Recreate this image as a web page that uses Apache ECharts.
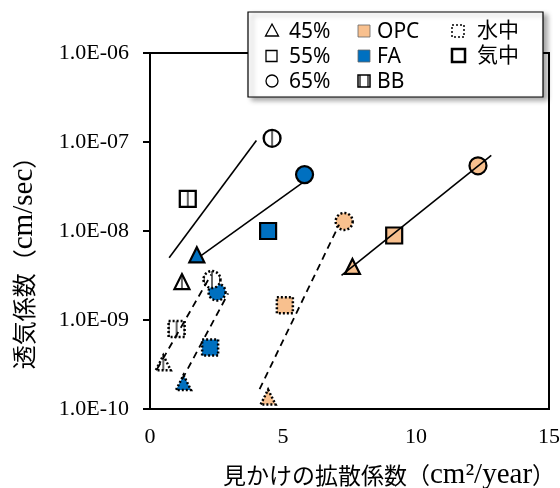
<!DOCTYPE html>
<html>
<head>
<meta charset="utf-8">
<script src="https://cdn.jsdelivr.net/npm/echarts@6/dist/echarts.min.js"></script>
<style>
  html, body { margin: 0; padding: 0; background: #fff; }
  #chart { width: 560px; height: 488px; }
</style>
</head>
<body>
<div id="chart"></div>
<script>
// W/C ratios (marker shape), binders (fill) and curing (outline style)
const ratios = ['45%', '55%', '65%'];
const binders = ['OPC', 'FA', 'BB'];
const curing = ['水中', '気中'];

// Apparent diffusion coefficient (cm²/year) vs. air permeability (cm/sec)
// air-cured (気中)
const opcAirX = [7.61, 9.18, 12.33];
const opcAirY = [4.0e-9, 8.9e-9, 5.4e-8];
const faAirX = [1.76, 4.44, 5.81];
const faAirY = [5.4e-9, 1.0e-8, 4.3e-8];
const bbAirX = [1.20, 1.42, 4.59];
const bbAirY = [2.7e-9, 2.3e-8, 1.1e-7];
// water-cured (水中)
const opcWaterX = [4.44, 5.07, 7.30];
const opcWaterY = [1.36e-10, 1.46e-9, 1.28e-8];
const faWaterX = [1.26, 2.26, 2.52];
const faWaterY = [1.98e-10, 4.9e-10, 2.06e-9];
const bbWaterX = [0.50, 1.00, 2.33];
const bbWaterY = [3.3e-10, 7.9e-10, 2.85e-9];

// exponential trend lines (end points)
const opcAirTrendX = [7.20, 12.83];
const opcAirTrendY = [3.18e-9, 7.06e-8];
const faAirTrendX = [1.92, 5.74];
const faAirTrendY = [5.30e-9, 3.49e-8];
const bbAirTrendX = [0.72, 4.00];
const bbAirTrendY = [5.0e-9, 1.04e-7];
const opcWaterTrendX = [4.12, 7.11];
const opcWaterTrendY = [1.67e-10, 1.18e-8];
const faWaterTrendX = [1.21, 2.94];
const faWaterTrendY = [2.16e-10, 1.99e-9];
const bbWaterTrendX = [0.26, 2.30];
const bbWaterTrendY = [2.79e-10, 3.24e-9];

// axis ticks
const xTicks = [0, 5, 10, 15];
const yTicks = [1e-10, 1e-9, 1e-8, 1e-7, 1e-6];

const OPC_COLOR = '#F8C08E';
const FA_COLOR = '#0070C0';

// vertical stripe fill used for BB
const stripeCanvas = (() => {
  const c = document.createElement('canvas');
  c.width = 8; c.height = 8;
  const g = c.getContext('2d');
  g.fillStyle = '#fff';
  g.fillRect(0, 0, 8, 8);
  g.fillStyle = '#666';
  g.fillRect(0, 0, 1, 8);
  g.fillRect(7, 0, 1, 8);
  return c;
})();
// symbols are unit paths scaled by size/2, so the pattern is scaled back
const stripes = (size) => ({ image: stripeCanvas, repeat: 'repeat', scaleX: 2 / size, scaleY: 2 / size });
const BB_LEGEND_FILL = { image: stripeCanvas, repeat: 'repeat' };

const SHAPES = ['triangle', 'rect', 'circle'];
const SIZES = [15, 16, 17];

function markers(name, xs, ys, fill, dotted) {
  return {
    name, type: 'scatter', z: 3,
    data: xs.map((x, i) => {
      const item = { value: [x, ys[i]], symbol: SHAPES[i], symbolSize: SIZES[i] };
      if (fill === 'stripes') item.itemStyle = { color: stripes(SIZES[i]) };
      return item;
    }),
    itemStyle: {
      color: fill === 'stripes' ? '#fff' : fill, opacity: 1,
      borderColor: '#000',
      borderWidth: dotted ? 2.5 : 2.2,
      borderType: dotted ? [2, 2] : 'solid'
    },
    emphasis: { disabled: true }
  };
}

function trend(name, xs, ys, dashed) {
  return {
    name, type: 'line', z: 4,
    data: xs.map((x, i) => [x, ys[i]]),
    symbol: 'none',
    lineStyle: { color: '#000', width: dashed ? 1.8 : 1.6, type: dashed ? [7, 5] : 'solid' },
    emphasis: { disabled: true },
    silent: true
  };
}

const serif = '"Liberation Serif", "Times New Roman", serif';
const sans = '"Noto Sans", "Noto Sans CJK JP", sans-serif';
const jp = '"Noto Sans CJK JP", sans-serif';

function fmtE(v) {
  const e = Math.round(Math.log10(v));
  const s = Math.abs(e) < 10 ? '0' + Math.abs(e) : '' + Math.abs(e);
  return '1.0E' + (e < 0 ? '-' : '+') + s;
}

// legend drawn as graphic elements
const LX = 248, LY = 12;
const rowY = [31, 56, 81];
const elements = [];
elements.push({
  type: 'rect', z: 100,
  shape: { x: LX, y: LY, width: 295, height: 85 },
  style: { fill: '#fff', stroke: '#000', lineWidth: 1.2,
           shadowBlur: 5, shadowOffsetX: 4, shadowOffsetY: 3, shadowColor: 'rgba(0,0,0,0.35)' }
});
const txt = (x, y, t) => ({
  type: 'text', z: 101, x, y,
  style: { text: t, font: '21px ' + sans, fill: '#000', align: 'left', verticalAlign: 'middle' }
});
// shape column
elements.push({ type: 'polygon', z: 101,
  shape: { points: [[272, rowY[0] - 7], [278.5, rowY[0] + 5], [265.5, rowY[0] + 5]] },
  style: { fill: '#fff', stroke: '#000', lineWidth: 1.3 } });
elements.push({ type: 'rect', z: 101,
  shape: { x: 266, y: rowY[1] - 5.5, width: 11, height: 11 },
  style: { fill: '#fff', stroke: '#000', lineWidth: 1.3 } });
elements.push({ type: 'circle', z: 101,
  shape: { cx: 272, cy: rowY[2], r: 6 },
  style: { fill: '#fff', stroke: '#000', lineWidth: 1.3 } });
ratios.forEach((r, i) => elements.push(txt(289, rowY[i] + 1, r)));
// binder column
const binderFills = [OPC_COLOR, FA_COLOR, BB_LEGEND_FILL];
binders.forEach((b, i) => {
  elements.push({ type: 'rect', z: 101,
    shape: { x: 358, y: rowY[i] - 6, width: 12, height: 12 },
    style: { fill: binderFills[i], stroke: i === 2 ? '#000' : '#666', lineWidth: i === 2 ? 1.5 : 0.8 } });
  elements.push(txt(377, rowY[i] + 1, b));
});
// curing column
elements.push({ type: 'rect', z: 101,
  shape: { x: 452, y: rowY[0] - 6, width: 12, height: 12 },
  style: { fill: '#fff', stroke: '#000', lineWidth: 1.5, lineDash: [2, 2] } });
elements.push({ type: 'rect', z: 101,
  shape: { x: 452, y: rowY[1] - 7, width: 13, height: 13 },
  style: { fill: '#fff', stroke: '#000', lineWidth: 2.5 } });
curing.forEach((c, i) => elements.push(txt(477, rowY[i], c)));

// axis titles
elements.push({
  type: 'text', z: 50, x: 24, y: 257, rotation: Math.PI / 2,
  style: {
    text: '{a|透気係数（}{b|cm/sec}{a|）}',
    align: 'center', verticalAlign: 'middle',
    rich: { a: { font: '24px ' + jp, fill: '#000' }, b: { font: '29px ' + serif, fill: '#000' } }
  }
});
elements.push({
  type: 'text', z: 50, x: 389, y: 475,
  style: {
    text: '{a|見かけの拡散係数（}{b|cm²/year}{a|）}',
    align: 'center', verticalAlign: 'middle',
    rich: { a: { font: '23px ' + jp, fill: '#000' }, b: { font: '29px ' + serif, fill: '#000' } }
  }
});

const chart = echarts.init(document.getElementById('chart'), null, { renderer: 'canvas' });
chart.setOption({
  animation: false,
  backgroundColor: '#fff',
  grid: {
    left: 150, right: 11, top: 53, bottom: 79,
    show: true, borderColor: '#000', borderWidth: 2,
    outerBoundsMode: 'none'
  },
  xAxis: {
    type: 'value', min: xTicks[0], max: xTicks[xTicks.length - 1], interval: 5,
    axisLine: { show: true, lineStyle: { color: '#000', width: 2 } },
    axisTick: { show: false },
    splitLine: { show: false },
    axisLabel: { color: '#000', fontFamily: serif, fontSize: 22, margin: 17 }
  },
  yAxis: {
    type: 'log', logBase: 10, min: yTicks[0], max: yTicks[yTicks.length - 1],
    axisLine: { show: true, lineStyle: { color: '#000', width: 2 } },
    axisTick: { show: true, inside: false, length: 7, lineStyle: { color: '#000', width: 2 } },
    minorTick: { show: false },
    splitLine: { show: false },
    axisLabel: { color: '#000', fontFamily: serif, fontSize: 22, margin: 21, formatter: fmtE }
  },
  graphic: { elements },
  series: [
    markers('OPC 気中', opcAirX, opcAirY, OPC_COLOR, false),
    markers('FA 気中', faAirX, faAirY, FA_COLOR, false),
    markers('BB 気中', bbAirX, bbAirY, 'stripes', false),
    markers('OPC 水中', opcWaterX, opcWaterY, OPC_COLOR, true),
    markers('FA 水中', faWaterX, faWaterY, FA_COLOR, true),
    markers('BB 水中', bbWaterX, bbWaterY, 'stripes', true),
    trend('OPC 気中 trend', opcAirTrendX, opcAirTrendY, false),
    trend('FA 気中 trend', faAirTrendX, faAirTrendY, false),
    trend('BB 気中 trend', bbAirTrendX, bbAirTrendY, false),
    trend('OPC 水中 trend', opcWaterTrendX, opcWaterTrendY, true),
    trend('FA 水中 trend', faWaterTrendX, faWaterTrendY, true),
    trend('BB 水中 trend', bbWaterTrendX, bbWaterTrendY, true)
  ]
});
</script>
</body>
</html>
